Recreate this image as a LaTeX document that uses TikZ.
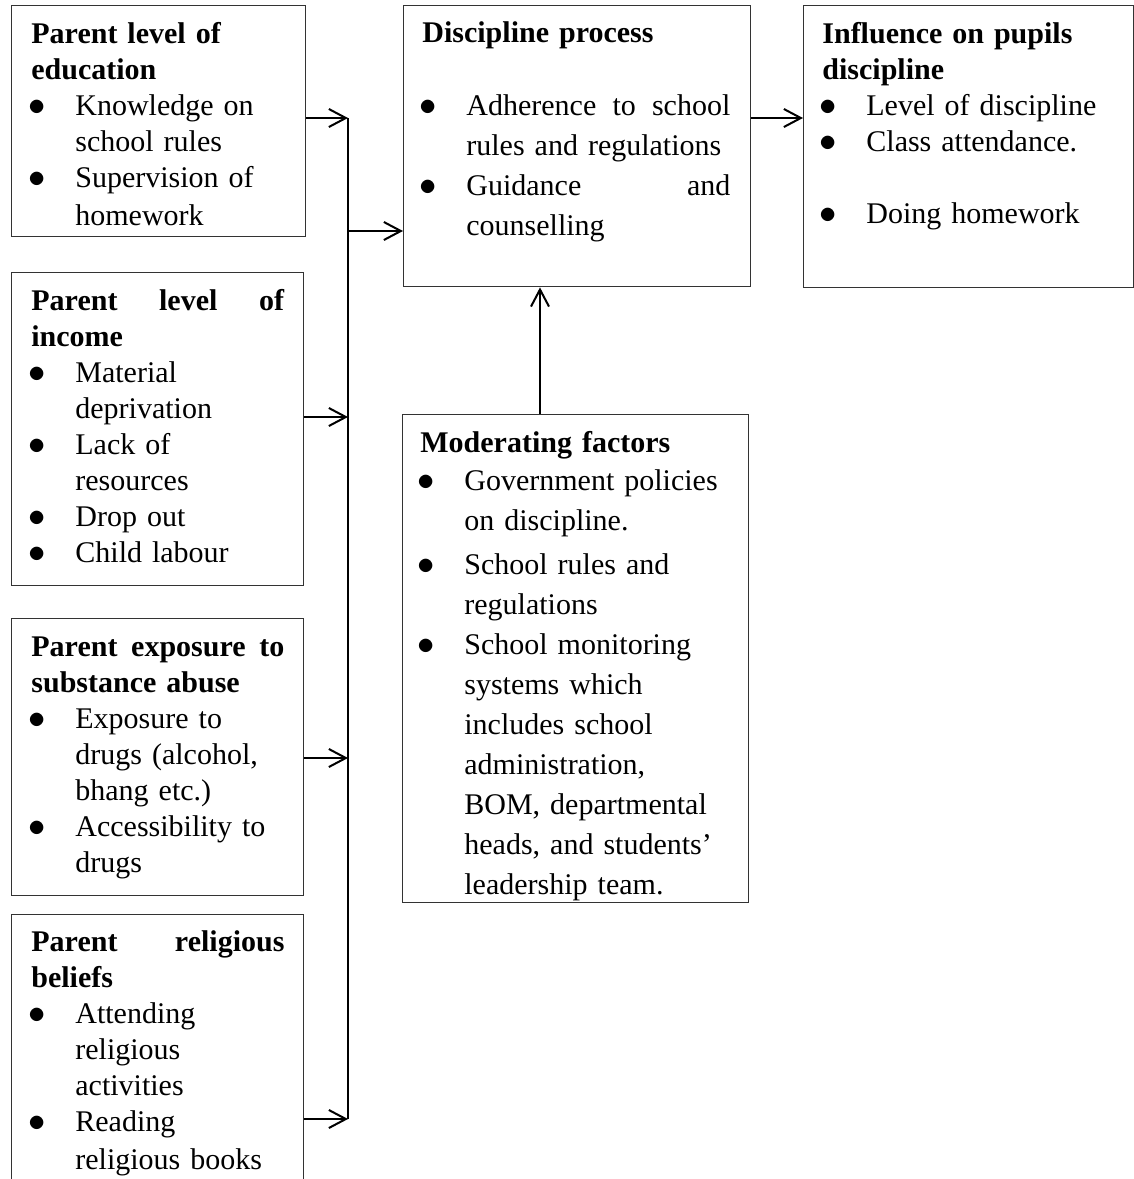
\documentclass[tikz,border=0pt]{standalone}
\usepackage{fontspec}
\setmainfont{Liberation Serif}
\usetikzlibrary{arrows.meta}
\newcommand{\bitem}{\makebox[22pt][l]{\hspace*{-1.5pt}{\fontsize{18}{18}\selectfont$\bullet$}}}
\newcommand{\bcont}{\hspace*{22pt}}
\begin{document}
\begin{tikzpicture}[x=0.5pt,y=-0.5pt,
    box/.style={draw=black!80, line width=0.7pt, anchor=north west, inner sep=0pt},
    txt/.style={anchor=base west, inner sep=0pt, align=left, font=\fontsize{15}{18}\selectfont},
    wide/.style={txt, font=\fontsize{15}{20}\selectfont},
    arr/.style={line width=1pt, -{Straight Barb[length=8.5pt,width=9pt]}},
    link/.style={line width=1pt}]
  \clip (0,0) rectangle (1134,1179);
  % boxes
  \node[box, minimum width=147pt, minimum height=115.5pt] (edu) at (11,5) {};
  \node[box, minimum width=146pt, minimum height=156.5pt] (inc) at (11,272) {};
  \node[box, minimum width=146pt, minimum height=138.5pt] (sub) at (11,618) {};
  \node[box, minimum width=146pt, minimum height=145pt] (rel) at (11,914) {};
  \node[box, minimum width=173.5pt, minimum height=140.5pt] (dis) at (403,5) {};
  \node[box, minimum width=165pt, minimum height=141pt] (inf) at (803,5) {};
  \node[box, minimum width=173pt, minimum height=244pt] (mod) at (402,414) {};
  % texts
  \node[txt, text width=126.5pt] (edu-t) at (31,43) {\textbf{Parent level of}\\
    \textbf{education}\\
    \bitem Knowledge on\\
    \bcont school rules\\
    \bitem Supervision of\\[1pt]
    \bcont homework};
  \node[txt, text width=126.5pt] (inc-t) at (31,310) {\makebox[126.5pt][l]{\textbf{Parent}\hfill\textbf{level}\hfill\textbf{of}}\\
    \textbf{income}\\
    \bitem Material\\
    \bcont deprivation\\
    \bitem Lack of\\
    \bcont resources\\
    \bitem Drop out\\
    \bitem Child labour};
  \node[txt, text width=126.5pt] (sub-t) at (31,656) {\makebox[126.5pt][l]{\textbf{Parent}\hfill\textbf{exposure}\hfill\textbf{to}}\\
    \textbf{substance abuse}\\
    \bitem Exposure to\\
    \bcont drugs (alcohol,\\
    \bcont bhang etc.)\\
    \bitem Accessibility to\\
    \bcont drugs};
  \node[txt, text width=126.5pt] (rel-t) at (31,951) {\makebox[126.5pt][l]{\textbf{Parent}\hfill\textbf{religious}}\\
    \textbf{beliefs}\\
    \bitem Attending\\
    \bcont religious\\
    \bcont activities\\
    \bitem Reading\\[1pt]
    \bcont religious books};
  \node[wide, text width=154.5pt] (dis-t) at (422,42) {\textbf{Discipline process}\\[16.5pt]
    \bitem\makebox[132pt][l]{Adherence\hfill to\hfill school}\\
    \bcont rules and regulations\\
    \bitem\makebox[132pt][l]{Guidance\hfill and}\\
    \bcont counselling};
  \node[txt, text width=146pt] (inf-t) at (822,43) {\textbf{Influence on pupils}\\
    \textbf{discipline}\\
    \bitem Level of discipline\\
    \bitem Class attendance.\\[18pt]
    \bitem Doing homework};
  \node[wide, text width=154.5pt] (mod-t) at (420,452) {\textbf{Moderating factors}\\[-1pt]
    \bitem Government policies\\
    \bcont on discipline.\\[2pt]
    \bitem School rules and\\
    \bcont regulations\\
    \bitem School monitoring\\
    \bcont systems which\\
    \bcont includes school\\
    \bcont administration,\\
    \bcont BOM, departmental\\
    \bcont heads, and students'\\
    \bcont leadership team.};
  % connectors
  \coordinate (s1) at (348,118);
  \coordinate (s2) at (348,417);
  \coordinate (s3) at (348,758);
  \coordinate (s4) at (348,1119);
  \coordinate (sd) at (348,231);
  \coordinate (up) at (540,414);
  \draw[link] (s1) -- (s4);
  \draw[arr] (s1 -| edu.east) -- (s1);
  \draw[arr] (s2 -| inc.east) -- (s2);
  \draw[arr] (s3 -| sub.east) -- (s3);
  \draw[arr] (s4 -| rel.east) -- (s4);
  \draw[arr] (sd) -- (sd -| dis.west);
  \draw[arr] (s1 -| dis.east) -- (s1 -| inf.west);
  \draw[arr] (up) -- (up |- dis.south);
\end{tikzpicture}
\end{document}
